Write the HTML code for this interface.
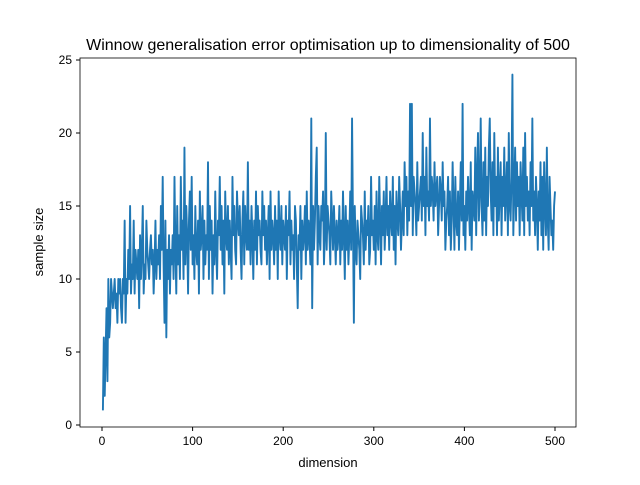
<!DOCTYPE html>
<html><head><meta charset="utf-8"><style>
body{margin:0;background:#fff;font-family:"Liberation Sans",sans-serif}
</style></head><body>
<svg id="chart" width="640" height="480" xmlns="http://www.w3.org/2000/svg">
<rect width="640" height="480" fill="#fff"/>
<text x="328" y="50" font-size="16" text-anchor="middle">Winnow generalisation error optimisation up to dimensionality of 500</text>
<g id="series"></g>
<rect x="80" y="58" width="496" height="369" fill="none" stroke="#000" stroke-width="0.8"/>
<g id="axes" font-size="12"></g>
<text x="328" y="467" font-size="13" text-anchor="middle">dimension</text>
<text x="0" y="0" font-size="13" text-anchor="middle" transform="translate(43,242) rotate(-90)">sample size</text>
</svg>
<script>
const xTicks=[0,100,200,300,400,500];
const yTicks=[0,5,10,15,20,25];
const sampleSize=[
1,6,2,5,8,3,10,6,7,10,9,8,9,10,8,9,7,10,9,10,
8,7,10,9,14,7,10,9,12,10,15,9,11,10,14,9,12,11,10,12,
8,13,10,12,15,9,11,10,14,12,11,10,12,13,11,12,9,11,14,10,
12,11,13,10,15,12,17,11,7,14,6,12,10,13,9,12,11,13,10,17,
12,9,15,11,13,10,17,12,14,10,19,11,15,13,9,14,16,12,17,11,
13,10,15,12,11,14,9,16,12,13,15,10,14,11,13,12,18,10,15,12,
14,9,13,11,16,12,10,14,13,17,12,15,11,14,9,16,13,12,15,11,
14,12,10,17,13,15,12,11,16,14,13,15,12,10,14,16,11,15,13,12,
18,12,14,11,15,13,10,14,12,16,11,15,13,14,12,11,16,13,15,12,
14,11,13,15,10,16,12,14,13,11,15,12,14,10,16,13,12,15,11,14,
13,12,15,10,14,13,16,11,14,12,13,10,15,14,11,8,13,12,15,10,
14,12,13,15,11,16,12,14,13,11,21,8,15,12,14,17,19,11,15,13,
12,15,14,16,11,13,20,12,15,14,13,11,16,14,12,15,13,11,14,12,
13,15,11,14,12,16,13,10,15,12,14,11,13,16,12,21,14,7,15,12,
11,14,13,12,10,15,14,13,11,16,12,14,13,15,11,12,17,13,14,12,
15,11,16,13,12,17,14,11,15,13,16,12,14,17,13,15,12,16,14,13,
17,12,15,11,16,14,13,17,15,12,14,16,13,18,15,17,13,16,14,22,
15,22,13,17,16,15,13,18,14,15,16,17,14,20,15,17,13,19,15,16,
14,21,15,17,16,14,18,15,16,17,13,15,17,16,14,18,15,16,12,14,
15,17,13,16,12,14,18,15,12,17,14,13,16,12,15,18,14,22,13,15,
12,16,14,17,15,13,18,12,16,15,14,19,13,17,20,14,16,21,15,13,
18,14,19,13,17,15,19,21,16,14,18,13,20,15,17,13,19,14,16,18,
13,17,15,19,14,16,18,13,20,15,14,17,24,13,16,19,14,18,15,17,
13,18,16,14,19,13,20,15,17,14,16,13,18,15,21,14,16,13,17,15,
12,16,14,18,13,17,12,18,15,13,19,14,12,17,15,13,14,12,15,16];
const NS="http://www.w3.org/2000/svg";
const xS=v=>102+v*0.906;
const yS=v=>425-v*14.6;
const ser=document.getElementById('series');
const pl=document.createElementNS(NS,'polyline');


pl.setAttribute('points',sampleSize.map((v,i)=>xS(i+1).toFixed(2)+','+yS(v).toFixed(2)).join(' '));
pl.setAttribute('fill','none');pl.setAttribute('stroke','#1f77b4');pl.setAttribute('stroke-width','1.9');pl.setAttribute('stroke-linejoin','round');
ser.appendChild(pl);
const ax=document.getElementById('axes');
xTicks.forEach(t=>{
const l=document.createElementNS(NS,'line');


l.setAttribute('x1',xS(t));l.setAttribute('x2',xS(t));l.setAttribute('y1',427);l.setAttribute('y2',431);l.setAttribute('stroke','#000');
ax.appendChild(l);
const tx=document.createElementNS(NS,'text');


tx.setAttribute('x',xS(t));tx.setAttribute('y',445);tx.setAttribute('text-anchor','middle');tx.textContent=t;
ax.appendChild(tx);
});
yTicks.forEach(t=>{
const l=document.createElementNS(NS,'line');


l.setAttribute('x1',76);l.setAttribute('x2',80);l.setAttribute('y1',yS(t));l.setAttribute('y2',yS(t));l.setAttribute('stroke','#000');
ax.appendChild(l);
const tx=document.createElementNS(NS,'text');


tx.setAttribute('x',72);tx.setAttribute('y',yS(t)+4);tx.setAttribute('text-anchor','end');tx.textContent=t;
ax.appendChild(tx);
});
</script>
</body></html>
